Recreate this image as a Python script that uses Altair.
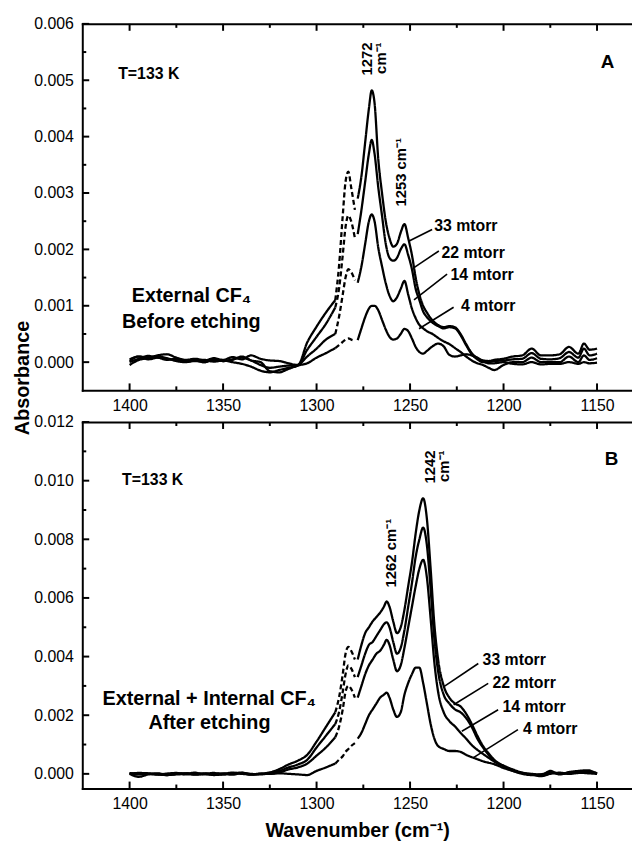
import altair as alt
import pandas as pd

FONT = "Liberation Sans"

SERIES = ["33 mtorr", "22 mtorr", "14 mtorr", "4 mtorr"]

WN_LEFT = [1400, 1395, 1390, 1385, 1380, 1375, 1370, 1365, 1360, 1355, 1350, 1345,
           1340, 1335, 1330, 1325, 1320, 1315, 1310, 1305, 1300, 1295, 1290]
WN_DASH = [1290, 1288, 1286, 1284.5, 1283, 1281.5, 1279.5]
WN_RIGHT_A = [1278, 1276, 1274, 1272, 1270.5, 1269, 1267, 1265, 1263, 1261,
              1259, 1257, 1255, 1253, 1251, 1249, 1247, 1245, 1243, 1241,
              1238, 1235, 1232, 1229, 1226, 1223, 1220, 1217, 1214, 1211,
              1208, 1205, 1200, 1195, 1190, 1185, 1180, 1175, 1170, 1165,
              1160, 1157, 1154, 1150]
WN_RIGHT_B = [1278, 1276, 1274, 1272, 1270, 1268, 1266, 1264, 1262.5, 1261,
              1259, 1257, 1255, 1253, 1251, 1249, 1247, 1245, 1243, 1241,
              1239, 1237, 1235, 1232, 1229, 1226, 1223, 1220, 1217, 1214,
              1211, 1208, 1205, 1200, 1195, 1190, 1185, 1180, 1175, 1170,
              1165, 1160, 1155, 1150]

A33_LEFT = [0.00005, 0.00010, 0.00008, 0.00012, 0.00014, 0.00008, 0.00004, 0.00006, 0.00003, 0.00007,
            0.00004, 0.00009, 0.00005, 0.00012, 0.00006, 0.00003, 0.00002, -0.00002, -0.00005, 0.00035,
            0.00063, 0.00088, 0.00110]
A22_LEFT = [0.0, 0.00006, 0.00011, 0.00008, 0.00006, 0.00003, 0.00001, 0.00002, 0.0, 0.00004,
            0.00002, 0.00005, 0.00008, 0.00003, -0.00005, -0.00010, -0.00008, -0.00006, -0.00005, 0.00022,
            0.00045, 0.00068, 0.00097]
A14_LEFT = [-0.00005, 0.00004, 0.00007, 0.00010, 0.00007, 0.00002, 0.0, 0.00003, 0.00004, 0.00001,
            0.00003, 0.0, -0.00003, -0.00008, -0.00015, -0.00018, -0.00014, -0.00010, -0.00006, 0.00010,
            0.00024, 0.00040, 0.00050]
A4_LEFT = [0.00002, 0.00010, 0.00005, 0.00008, 0.00004, 0.00006, 0.00002, 0.00004, 0.0, 0.00006,
           0.00002, 0.00004, 0.00010, 0.00003, 0.0, -0.00016, -0.00018, -0.00012, -0.00006, -0.00002,
           0.00008, 0.00016, 0.00025]

A33_DASH = [0.00110, 0.0017, 0.0026, 0.0032, 0.00338, 0.0031, 0.0027]
A22_DASH = [0.00097, 0.0013, 0.0019, 0.0024, 0.0026, 0.0025, 0.0022]
A14_DASH = [0.00050, 0.0008, 0.0012, 0.0015, 0.00165, 0.0016, 0.00145]
A4_DASH = [0.00025, 0.0003, 0.00036, 0.0004, 0.00042, 0.0004, 0.00038]

A33_RIGHT = [0.0029, 0.0033, 0.0039, 0.0045, 0.00482, 0.0046, 0.0036, 0.0030, 0.0025, 0.0022,
             0.00205, 0.0021, 0.0023, 0.00245, 0.0022, 0.0019, 0.0015, 0.0012, 0.0010, 0.00088,
             0.00074, 0.00066, 0.00062, 0.00064, 0.00062, 0.0005, 0.00032, 0.00016, 0.00007, 0.00003,
             0.00002, 0.00004, 0.00006, 0.0001, 0.00012, 0.00024, 0.00012, 0.00012, 0.00014, 0.00027,
             0.00015, 0.00033, 0.00022, 0.00024]
A22_RIGHT = [0.00227, 0.0027, 0.0032, 0.0037, 0.00394, 0.0037, 0.0031, 0.0026, 0.0021, 0.00185,
             0.0018, 0.00185, 0.0020, 0.00209, 0.0019, 0.00165, 0.0013, 0.0011, 0.0009, 0.0008,
             0.0007, 0.00064, 0.0006, 0.00062, 0.0006, 0.00048, 0.0003, 0.00014, 0.00005, 0.0,
             0.0, 0.00002, 0.00003, 0.00005, 0.00006, 0.00016, 0.00006, 0.00005, 0.00007, 0.00018,
             0.00008, 0.00024, 0.00012, 0.00015]
A14_RIGHT = [0.00141, 0.0017, 0.0021, 0.0025, 0.00262, 0.0025, 0.00203, 0.0017, 0.0014, 0.00118,
             0.00108, 0.00115, 0.0013, 0.00144, 0.0012, 0.00095, 0.00078, 0.00066, 0.0006, 0.00055,
             0.0005, 0.00043, 0.00037, 0.00032, 0.00025, 0.00018, 0.0001, 0.00003, -0.00002, -0.00005,
             -0.0001, -0.00014, -0.00005, 0.0, 0.0, 0.00008, 0.0, 0.0, 0.0, 0.0001,
             0.0, 0.00012, 0.00004, 0.00007]
A4_RIGHT = [0.00039, 0.0006, 0.0008, 0.00095, 0.001, 0.001, 0.00092, 0.00075, 0.00058, 0.00045,
            0.0004, 0.00042, 0.0005, 0.00059, 0.00055, 0.00042, 0.00027, 0.00018, 0.00015, 0.0002,
            0.00028, 0.00033, 0.00028, 0.00013, 0.0001, 0.00012, 0.00014, 0.00012, 0.00008, 0.00002,
            -0.00002, -0.00002, 0.0, -0.00003, -0.00004, 0.0, -0.00004, -0.00003, -0.00003, 0.0,
            -0.00003, 0.0, -0.00002, -0.00001]

B33_LEFT = [0.0, 0.00003, 0.00002, -0.00002, -0.00004, 0.0, 0.00002, -0.00003, 0.0, 0.00003,
            -0.00002, 0.00002, 0.00004, -0.00002, 0.0, 0.00005, 0.00016, 0.00032, 0.00045, 0.00065,
            0.0011, 0.0016, 0.0021]
B22_LEFT = [0.00002, 0.00001, 0.0, 0.00002, -0.00003, -0.00002, 0.0, 0.00004, -0.00002, 0.0,
            0.00002, -0.00003, 0.00003, 0.0, -0.00002, 0.00003, 0.0001, 0.00022, 0.00032, 0.00048,
            0.0009, 0.0013, 0.0017]
B14_LEFT = [0.00003, -0.00002, 0.0, -0.00003, 0.00001, 0.00003, -0.00002, 0.0, 0.00002, -0.00003,
            0.0, 0.00004, 0.0, -0.00002, 0.00001, 0.0, 0.00005, 0.00015, 0.00022, 0.00035,
            0.00062, 0.0009, 0.00125]
B4_LEFT = [0.0, -0.0001, -0.00002, 0.0, -0.00004, 0.0, 0.00002, -0.00002, 0.0, -0.00004,
           -0.00002, 0.0, 0.00002, -0.00003, 0.0, 0.0, 0.00002, 0.0, -0.00002, -0.00004,
           0.0001, 0.00022, 0.00035]

B33_DASH = [0.0021, 0.0026, 0.0034, 0.0041, 0.00433, 0.0042, 0.0039]
B22_DASH = [0.0017, 0.0021, 0.0028, 0.0034, 0.0037, 0.0036, 0.0033]
B14_DASH = [0.00125, 0.0016, 0.0022, 0.0028, 0.0030, 0.0029, 0.0026]
B4_DASH = [0.00035, 0.00048, 0.0006, 0.00075, 0.00085, 0.00095, 0.00105]

B33_RIGHT = [0.0039, 0.0044, 0.0048, 0.0050, 0.0052, 0.00535, 0.0055, 0.0057, 0.00588, 0.0057,
             0.0052, 0.0048, 0.0050, 0.0056, 0.0064, 0.0072, 0.0082, 0.0090, 0.0094, 0.0087,
             0.0070, 0.0051, 0.0039, 0.0030, 0.0026, 0.0024, 0.0023, 0.00205, 0.0017, 0.0013,
             0.00095, 0.0007, 0.00048, 0.00027, 0.00012, 0.00003, -0.00003, -0.00006, 0.0001, -0.00002,
             0.00006, 0.0001, 0.00012, 0.0]
B22_RIGHT = [0.0033, 0.0037, 0.0041, 0.0044, 0.0045, 0.0047, 0.0049, 0.0051, 0.00517, 0.0050,
             0.0045, 0.0041, 0.0043, 0.0049, 0.0057, 0.0065, 0.0074, 0.0080, 0.0084, 0.0078,
             0.0063, 0.0046, 0.0035, 0.0027, 0.0024, 0.0022, 0.0021, 0.0019, 0.0016, 0.0012,
             0.0009, 0.00065, 0.00045, 0.00025, 0.0001, 0.0, -0.00004, -0.00002, 0.00006, 0.0,
             0.00004, 0.00006, 0.00008, 0.00002]
B14_RIGHT = [0.0026, 0.0030, 0.0034, 0.0037, 0.0039, 0.0041, 0.0042, 0.0044, 0.00457, 0.0044,
             0.0039, 0.0035, 0.0037, 0.0043, 0.0050, 0.0057, 0.0064, 0.0070, 0.0073, 0.0067,
             0.0053, 0.0038, 0.0028, 0.0021, 0.0018, 0.00162, 0.0014, 0.0012, 0.00098, 0.00082,
             0.00068, 0.00055, 0.00042, 0.00028, 0.00015, 0.00004, -0.00002, -0.00008, 0.0, 0.00004,
             0.0, 0.00003, 0.00006, 0.0]
B4_RIGHT = [0.0012, 0.0014, 0.0017, 0.0020, 0.0022, 0.0024, 0.0026, 0.0027, 0.00277, 0.0026,
            0.0022, 0.00194, 0.0021, 0.0027, 0.0031, 0.0034, 0.00362, 0.00362, 0.0031, 0.0024,
            0.0017, 0.0012, 0.00095, 0.00085, 0.00078, 0.00078, 0.00075, 0.00065, 0.00057, 0.0005,
            0.00043, 0.00038, 0.00033, 0.0002, 0.0001, 0.00003, 0.0, -0.00002, 0.00004, 0.0,
            0.00002, 0.00004, 0.00002, 0.0]

A_LEFT_TEXT = ["T=133 K", "33 mtorr", "22 mtorr", "14 mtorr", "4 mtorr"]
A_LEFT_WN = [1406.1, 1237.1, 1233.2, 1228.4, 1222.8]
A_LEFT_Y = [0.00511, 0.00241, 0.00194, 0.00155, 0.00100]
A_LEFT_FS = [16, 16, 16, 16, 16]
A_CENTER_TEXT = ["A", "External CF\u2084", "Before etching"]
A_CENTER_WN = [1144.4, 1366.9, 1367.0]
A_CENTER_Y = [0.00532, 0.00118, 0.00072]
A_CENTER_FS = [19, 20, 20]
A_ROT_TEXT = ["1272\ncm\u207b\u00b9", "1253 cm\u207b\u00b9"]
A_ROT_WN = [1273.1, 1254.6]
A_ROT_Y = [0.00567, 0.00276]
A_ROT_ALIGN = ["right", "left"]
A_LEAD_X1 = [1238.2, 1234.6, 1230.2, 1226.7]
A_LEAD_Y1 = [0.002354, 0.001972, 0.001562, 0.000974]
A_LEAD_X2 = [1250.5, 1247.9, 1247.9, 1245.2]
A_LEAD_Y2 = [0.002148, 0.001678, 0.001104, 0.000593]

B_LEFT_TEXT = ["T=133 K", "33 mtorr", "22 mtorr", "14 mtorr", "4 mtorr"]
B_LEFT_WN = [1404.0, 1211.2, 1205.9, 1200.6, 1189.6]
B_LEFT_Y = [0.01002, 0.00389, 0.00311, 0.00227, 0.00154]
B_LEFT_FS = [16, 16, 16, 16, 16]
B_CENTER_TEXT = ["B", "External + Internal CF\u2084", "After etching"]
B_CENTER_WN = [1142.3, 1357.4, 1357.3]
B_CENTER_Y = [0.01073, 0.00254, 0.00172]
B_CENTER_FS = [19, 20, 20]
B_ROT_TEXT = ["1242\ncm\u207b\u00b9", "1262 cm\u207b\u00b9"]
B_ROT_WN = [1239.5, 1260.3]
B_ROT_Y = [0.01103, 0.00636]
B_ROT_ALIGN = ["right", "left"]
B_LEAD_X1 = [1213.5, 1208.2, 1202.9, 1192.3]
B_LEAD_Y1 = [0.003763, 0.003087, 0.002187, 0.001511]
B_LEAD_X2 = [1231.9, 1226.7, 1222.3, 1216.1]
B_LEAD_Y2 = [0.002975, 0.002356, 0.001454, 0.000551]

X_DOMAIN = [1425.3, 1131.3]
X_LABELS = [1400, 1350, 1300, 1250, 1200, 1150]
X_TICKS = [1400, 1375, 1350, 1325, 1300, 1275, 1250, 1225, 1200, 1175, 1150]
A_YDOM = [-0.0005, 0.006]
A_YLAB = [0.000, 0.001, 0.002, 0.003, 0.004, 0.005, 0.006]
A_YTICK = [0.0, 0.0005, 0.001, 0.0015, 0.002, 0.0025, 0.003, 0.0035, 0.004, 0.0045, 0.005, 0.0055, 0.006]
B_YDOM = [-0.0005, 0.012]
B_YLAB = [0.000, 0.002, 0.004, 0.006, 0.008, 0.010, 0.012]
B_YTICK = [0.0, 0.001, 0.002, 0.003, 0.004, 0.005, 0.006, 0.007, 0.008, 0.009, 0.010, 0.011, 0.012]

W = 555
H = 370
MAJOR_TICK = 7
MINOR_TICK = 4


def spectra_df(left, dash, right, wn_right):
    rows = []
    for s, l, d, r in zip(SERIES, left, dash, right):
        for seg, style, wns, vals in (("a", "solid", WN_LEFT, l),
                                      ("b", "dashed", WN_DASH, d),
                                      ("c", "solid", wn_right, r)):
            for w, v in zip(wns, vals):
                rows.append({"series": s, "seg": s + seg, "style": style, "wn": w, "A": v})
    return pd.DataFrame(rows)


def ticks_df(ydom, ylab, ytick):
    # inward tick marks; lengths converted from pixels to data units of each scale
    upx = (X_DOMAIN[0] - X_DOMAIN[1]) / W
    upy = (ydom[1] - ydom[0]) / H
    rows = []
    for v in X_TICKS:
        n = MAJOR_TICK if v in X_LABELS else MINOR_TICK
        rows.append({"tx": v, "ty": ydom[0], "tx2": v, "ty2": ydom[0] + n * upy})
        rows.append({"tx": v, "ty": ydom[1], "tx2": v, "ty2": ydom[1] - n * upy})
    for v in ytick:
        n = MAJOR_TICK if any(abs(v - l) < 1e-9 for l in ylab) else MINOR_TICK
        rows.append({"tx": X_DOMAIN[0], "ty": v, "tx2": X_DOMAIN[0] - n * upx, "ty2": v})
    return pd.DataFrame(rows)


def panel(lines_df, lead, left, center, rot, ydom, ylab, ytick, xtitle, ytitle):
    xs = alt.Scale(domain=X_DOMAIN, nice=False, zero=False)
    ys = alt.Scale(domain=ydom, nice=False, zero=False)

    x_main = alt.Axis(orient="bottom", values=X_LABELS, format="d", ticks=False, grid=False,
                      domainColor="black", domainWidth=2, domainCap="square",
                      labelFont=FONT, labelFontSize=16, labelColor="black", labelPadding=7,
                      titleFont=FONT, titleFontSize=20, titleFontWeight="bold",
                      titleColor="black", titlePadding=9)
    y_main = alt.Axis(orient="left", values=ylab, format=".3f", ticks=False, grid=False,
                      domainColor="black", domainWidth=2, domainCap="square",
                      labelFont=FONT, labelFontSize=16, labelColor="black", labelPadding=9,
                      titleFont=FONT, titleFontSize=20, titleFontWeight="bold",
                      titleColor="black", titlePadding=1, titleY=357)

    lines = alt.Chart(lines_df).mark_line(color="black", strokeWidth=2.3, interpolate="monotone").encode(
        x=alt.X("wn:Q", scale=xs, axis=x_main, title=xtitle),
        y=alt.Y("A:Q", scale=ys, axis=y_main, title=ytitle),
        detail="seg:N",
        strokeDash=alt.StrokeDash("style:N", scale=alt.Scale(domain=["solid", "dashed"],
                                                            range=[[1, 0], [5, 3]]), legend=None),
    )

    tick_rules = alt.Chart(ticks_df(ydom, ylab, ytick)).mark_rule(color="black", strokeWidth=2).encode(
        x=alt.X("tx:Q", scale=xs, axis=None), x2="tx2:Q",
        y=alt.Y("ty:Q", scale=ys, axis=None), y2="ty2:Q",
    )

    lead_df = pd.DataFrame({"x1": lead[0], "y1": lead[1], "x2": lead[2], "y2": lead[3]})
    rules = alt.Chart(lead_df).mark_rule(color="black", strokeWidth=1.6).encode(
        x=alt.X("x1:Q", scale=xs, axis=None), x2="x2:Q",
        y=alt.Y("y1:Q", scale=ys, axis=None), y2="y2:Q",
    )

    left_df = pd.DataFrame({"wn": left[1], "A": left[2], "label": left[0], "fs": left[3]})
    t_left = alt.Chart(left_df).mark_text(align="left", baseline="middle", font=FONT,
                                          fontWeight="bold", color="black").encode(
        x=alt.X("wn:Q", scale=xs, title=None,
                axis=alt.Axis(orient="top", domain=True, domainColor="black", domainWidth=2,
                              domainCap="square", ticks=False, labels=False, grid=False)),
        y=alt.Y("A:Q", scale=ys, axis=None),
        text="label:N",
        size=alt.Size("fs:Q", scale=None, legend=None),
    )

    center_df = pd.DataFrame({"wn": center[1], "A": center[2], "label": center[0], "fs": center[3]})
    t_center = alt.Chart(center_df).mark_text(align="center", baseline="middle", font=FONT,
                                              fontWeight="bold", color="black").encode(
        x=alt.X("wn:Q", scale=xs, axis=None),
        y=alt.Y("A:Q", scale=ys, axis=None),
        text="label:N",
        size=alt.Size("fs:Q", scale=None, legend=None),
    )

    rot_layers = []
    for txt, w, a, al in zip(*rot):
        rdf = pd.DataFrame({"wn": [w], "A": [a], "label": [txt]})
        rot_layers.append(
            alt.Chart(rdf).mark_text(align=al, baseline="middle", angle=270, font=FONT,
                                     fontSize=15, fontWeight="bold", color="black",
                                     lineBreak="\n", lineHeight=14).encode(
                x=alt.X("wn:Q", scale=xs, axis=None),
                y=alt.Y("A:Q", scale=ys, axis=None),
                text="label:N",
            )
        )

    return alt.layer(lines, tick_rules, rules, t_left, t_center, *rot_layers).resolve_axis(
        x="independent", y="independent"
    ).properties(width=W, height=H)


top = panel(
    spectra_df([A33_LEFT, A22_LEFT, A14_LEFT, A4_LEFT], [A33_DASH, A22_DASH, A14_DASH, A4_DASH],
               [A33_RIGHT, A22_RIGHT, A14_RIGHT, A4_RIGHT], WN_RIGHT_A),
    (A_LEAD_X1, A_LEAD_Y1, A_LEAD_X2, A_LEAD_Y2),
    (A_LEFT_TEXT, A_LEFT_WN, A_LEFT_Y, A_LEFT_FS),
    (A_CENTER_TEXT, A_CENTER_WN, A_CENTER_Y, A_CENTER_FS),
    (A_ROT_TEXT, A_ROT_WN, A_ROT_Y, A_ROT_ALIGN),
    A_YDOM, A_YLAB, A_YTICK, None, "Absorbance",
)

bottom = panel(
    spectra_df([B33_LEFT, B22_LEFT, B14_LEFT, B4_LEFT], [B33_DASH, B22_DASH, B14_DASH, B4_DASH],
               [B33_RIGHT, B22_RIGHT, B14_RIGHT, B4_RIGHT], WN_RIGHT_B),
    (B_LEAD_X1, B_LEAD_Y1, B_LEAD_X2, B_LEAD_Y2),
    (B_LEFT_TEXT, B_LEFT_WN, B_LEFT_Y, B_LEFT_FS),
    (B_CENTER_TEXT, B_CENTER_WN, B_CENTER_Y, B_CENTER_FS),
    (B_ROT_TEXT, B_ROT_WN, B_ROT_Y, B_ROT_ALIGN),
    B_YDOM, B_YLAB, B_YTICK, "Wavenumber (cm\u207b\u00b9)", None,
)

chart = alt.vconcat(top, bottom, spacing=32, bounds="flush").properties(
    padding={"left": 4, "top": 4, "right": 0, "bottom": 0}
).configure_view(stroke=None)

chart.save("out.html", embed_options={"renderer": "svg", "actions": False})
